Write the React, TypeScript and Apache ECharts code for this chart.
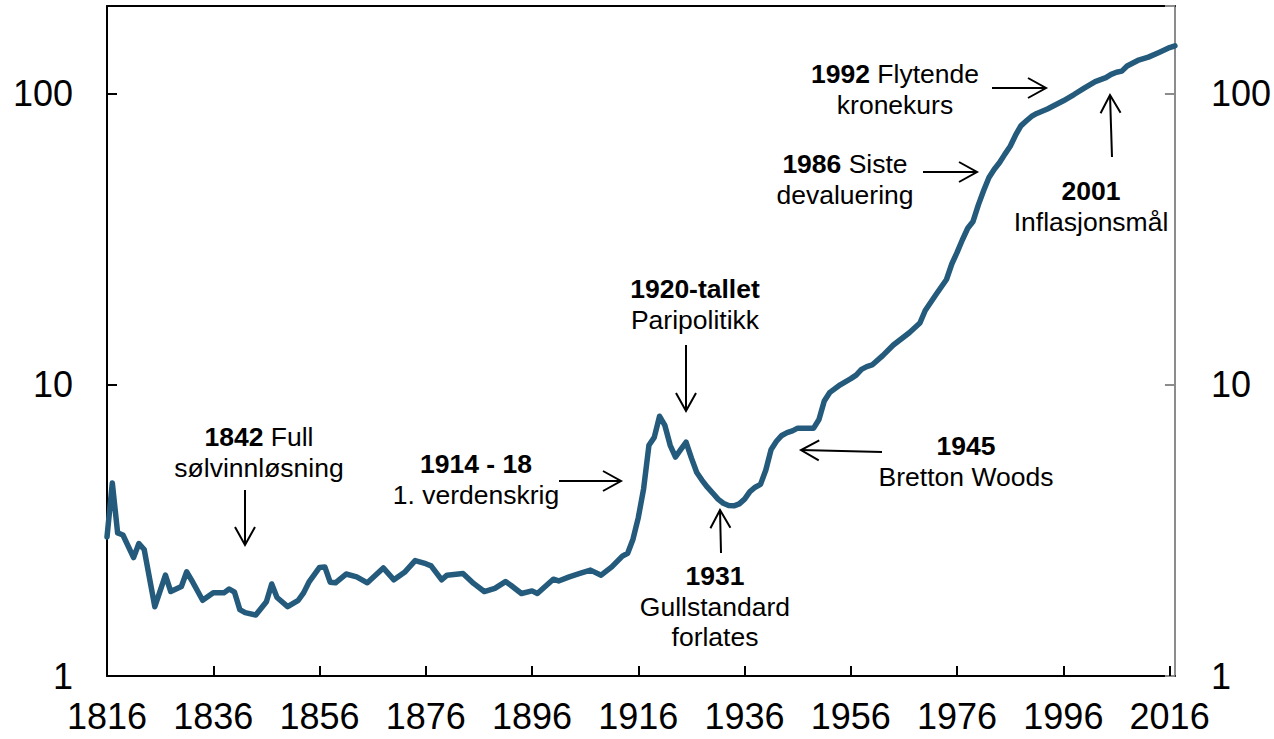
import React, { useEffect, useRef } from 'react';
import * as echarts from 'echarts';

const FONT = '"Liberation Sans", Arial, Helvetica, sans-serif';

// Price index (log scale)
const years = [
  1816, 1817, 1818, 1819, 1821, 1822, 1823, 1825, 1827, 1828, 1830, 1831, 1832, 1834, 1836, 1838, 1839, 1840,
  1841, 1842, 1844, 1846, 1847, 1848, 1850, 1852, 1853, 1854, 1856, 1857, 1858, 1859, 1861, 1863, 1865, 1868,
  1870, 1872, 1874, 1876, 1877, 1879, 1880, 1883, 1885, 1887, 1889, 1891, 1892, 1894, 1896, 1897, 1900, 1901,
  1903, 1905, 1907, 1909, 1911, 1913, 1914, 1915, 1916, 1917, 1918, 1919, 1920, 1921, 1922, 1923, 1924, 1925,
  1926, 1927, 1928, 1929, 1930, 1931, 1932, 1933, 1934, 1935, 1936, 1937, 1938, 1939, 1940, 1941, 1942, 1943,
  1944, 1945, 1946, 1949, 1950, 1951, 1952, 1954, 1956, 1957, 1958, 1959, 1960, 1962, 1964, 1967, 1969, 1970,
  1972, 1974, 1975, 1976, 1977, 1978, 1979, 1980, 1981, 1982, 1983, 1984, 1985, 1986, 1987, 1988, 1989, 1990,
  1991, 1993, 1996, 1998, 2000, 2002, 2004, 2005, 2006, 2007, 2008, 2010, 2012, 2014, 2016, 2017,
];
const priceIndex = [
  3.0, 4.6, 3.1, 3.05, 2.55, 2.85, 2.72, 1.73, 2.22, 1.95, 2.03, 2.28, 2.12, 1.82, 1.93, 1.93, 1.99, 1.94,
  1.69, 1.65, 1.62, 1.8, 2.07, 1.86, 1.73, 1.82, 1.93, 2.1, 2.36, 2.37, 2.1, 2.09, 2.24, 2.19, 2.09, 2.35,
  2.14, 2.27, 2.49, 2.43, 2.39, 2.14, 2.22, 2.25, 2.08, 1.95, 2.0, 2.11, 2.05, 1.92, 1.96, 1.92, 2.15, 2.12,
  2.19, 2.25, 2.31, 2.22, 2.37, 2.58, 2.64, 2.95, 3.5, 4.4, 6.2, 6.6, 7.8, 7.25, 6.2, 5.65, 6.0, 6.35,
  5.6, 5.0, 4.7, 4.45, 4.25, 4.05, 3.92, 3.85, 3.84, 3.9, 4.05, 4.3, 4.45, 4.55, 5.1, 6.0, 6.4, 6.7,
  6.85, 6.95, 7.1, 7.1, 7.6, 8.8, 9.4, 10.0, 10.5, 10.8, 11.3, 11.55, 11.7, 12.6, 13.7, 15.1, 16.3, 18.0,
  20.4, 23.0, 26.0, 28.5, 31.5, 34.5, 36.4, 41.5, 46.5, 51.5, 55, 58, 62, 66, 72, 77.5, 80.5, 83.5,
  85.5, 88.6, 94.5, 99.3, 104.7, 110, 113.5, 116.5, 118.5, 119.5, 124.5, 130, 133.5, 138.5, 144, 146,
];

const xTicks = [1816, 1836, 1856, 1876, 1896, 1916, 1936, 1956, 1976, 1996, 2016];
const yMin = 1;
const yMax = 200;

// Annotations: text lines (rich text, {b|..} = bold), centre x, first line centre y, arrow [x1,y1,x2,y2] (tip at x2,y2)
const annotations = [
  { lines: ['{b|1842} Full', 'sølvinnløsning'], x: 259, y: 437, arrow: [245, 490, 245, 545] },
  { lines: ['{b|1914 - 18}', '1. verdenskrig'], x: 476, y: 464, arrow: [559, 481, 621, 481] },
  { lines: ['{b|1920-tallet}', 'Paripolitikk'], x: 695, y: 289, arrow: [686, 345, 686, 411] },
  { lines: ['{b|1931}', 'Gullstandard', 'forlates'], x: 715, y: 576, arrow: [721, 553, 720, 510] },
  { lines: ['{b|1945}', 'Bretton Woods'], x: 966, y: 446, arrow: [882, 452, 801, 450] },
  { lines: ['{b|1986} Siste', 'devaluering'], x: 845, y: 164, arrow: [923, 172, 977, 172] },
  { lines: ['{b|1992} Flytende', 'kronekurs'], x: 895, y: 74, arrow: [992, 88, 1046, 88] },
  { lines: ['{b|2001}', 'Inflasjonsmål'], x: 1091, y: 191, arrow: [1112, 157, 1110, 95] },
];

const LINE_GAP = 30.5;
const ANN_SIZE = 26.5;

function buildGraphics() {
  const els: any[] = [];
  annotations.forEach((a) => {
    a.lines.forEach((t, i) => {
      els.push({
        type: 'text',
        silent: true,
        style: {
          text: t,
          x: a.x,
          y: a.y + i * LINE_GAP,
          fill: '#000',
          fontSize: ANN_SIZE,
          fontFamily: FONT,
          textAlign: 'center',
          textVerticalAlign: 'middle',
          rich: {
            b: { fontSize: ANN_SIZE, fontFamily: FONT, fontWeight: 'bold', fill: '#000' },
          },
        },
      });
    });
    const [x1, y1, x2, y2] = a.arrow;
    const dx = x2 - x1;
    const dy = y2 - y1;
    const len = Math.sqrt(dx * dx + dy * dy);
    const ux = dx / len;
    const uy = dy / len;
    const L = 18;
    const W = 10;
    const bx = x2 - ux * L;
    const by = y2 - uy * L;
    els.push({
      type: 'line',
      silent: true,
      shape: { x1, y1, x2, y2 },
      style: { stroke: '#000', lineWidth: 2 },
    });
    els.push({
      type: 'polyline',
      silent: true,
      shape: {
        points: [
          [bx - uy * W, by + ux * W],
          [x2, y2],
          [bx + uy * W, by - ux * W],
        ],
      },
      style: { stroke: '#000', lineWidth: 2, fill: 'none' },
    });
  });
  return els;
}

const powLabel = (v: number) => {
  const l = Math.log10(v);
  return Math.abs(l - Math.round(l)) < 1e-6 ? String(Math.round(v)) : '';
};

export default function App() {
  const ref = useRef<HTMLDivElement>(null);
  useEffect(() => {
    const chart = echarts.init(ref.current!, null, { renderer: 'svg' });
    const data = years.map((y, i) => [y, priceIndex[i]]);
    const option: any = {
      animation: false,
      backgroundColor: '#fff',
      grid: { left: 107, right: 97, top: 6, bottom: 63, containLabel: false },
      xAxis: [
        {
          type: 'value',
          min: 1816,
          max: 2017,
          position: 'bottom',
          axisLine: { show: true, lineStyle: { color: '#000', width: 2 } },
          axisTick: { show: true, inside: true, length: 10, customValues: xTicks, lineStyle: { color: '#000', width: 2 } },
          axisLabel: {
            customValues: xTicks,
            fontSize: 36,
            fontFamily: FONT,
            color: '#000',
            margin: 22,
            formatter: (v: number) => String(v),
          },
          splitLine: { show: false },
        },
        {
          type: 'value',
          min: 1816,
          max: 2017,
          position: 'top',
          axisLine: { show: true, lineStyle: { color: '#000', width: 2 } },
          axisTick: { show: false },
          axisLabel: { show: false },
          splitLine: { show: false },
        },
      ],
      yAxis: [
        {
          type: 'log',
          logBase: 10,
          min: yMin,
          max: yMax,
          position: 'left',
          axisLine: { show: true, lineStyle: { color: '#000', width: 2 } },
          axisTick: { show: true, inside: true, length: 10, lineStyle: { color: '#000', width: 2 } },
          axisLabel: { fontSize: 36, fontFamily: FONT, color: '#000', margin: 34, formatter: powLabel },
          splitLine: { show: false },
          minorTick: { show: false },
        },
        {
          type: 'log',
          logBase: 10,
          min: yMin,
          max: yMax,
          position: 'right',
          axisLine: { show: true, lineStyle: { color: '#8c8c8c', width: 2 } },
          axisTick: { show: true, inside: true, length: 10, lineStyle: { color: '#8c8c8c', width: 2 } },
          axisLabel: { fontSize: 36, fontFamily: FONT, color: '#000', margin: 36, formatter: powLabel },
          splitLine: { show: false },
        },
      ],
      series: [
        {
          type: 'line',
          xAxisIndex: 0,
          yAxisIndex: 0,
          data,
          symbol: 'none',
          showSymbol: false,
          lineStyle: { color: '#245A7B', width: 5.5, cap: 'round', join: 'round' },
          z: 3,
        },
      ],
      graphic: { elements: buildGraphics() },
    };
    chart.setOption(option);
    return () => chart.dispose();
  }, []);
  return (
    <div
      ref={ref}
      style={{ position: 'absolute', left: 0, top: 0, width: 1274, height: 739, background: '#fff' }}
    />
  );
}
